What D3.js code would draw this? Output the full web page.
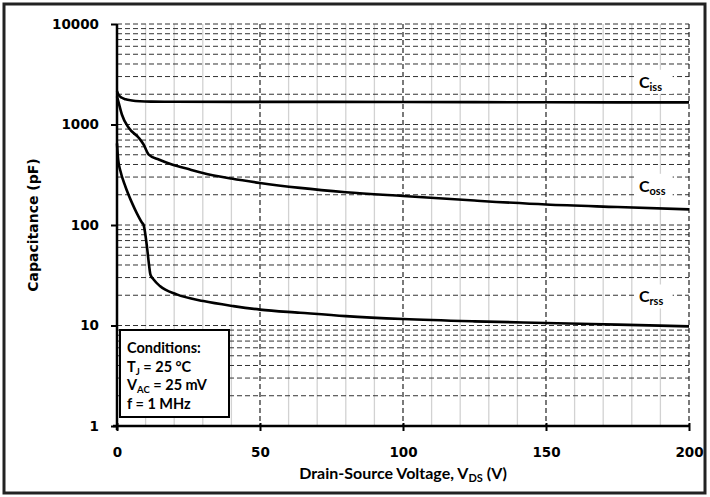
<!DOCTYPE html>
<html>
<head>
<meta charset="utf-8">
<script src="https://cdn.jsdelivr.net/npm/d3@7"></script>
<style>
  body { margin: 0; background: #fff; }
  svg { display: block; }
</style>
</head>
<body>
<svg id="chart"></svg>
<script>
// curve data
var vCiss = [0, 0.5, 1.7, 3, 5.2, 8, 12, 20, 50, 100, 150, 200];
var ciss  = [2150, 1980, 1845, 1780, 1735, 1705, 1690, 1685, 1680, 1675, 1665, 1660];

var vCoss = [0, 0.6, 1.7, 4.1, 7.6, 9.3, 11.1, 14.6, 19.2, 25.5, 30, 40, 50, 64, 80, 100, 125, 150, 175, 200];
var coss  = [1900, 1640, 1257, 927, 738, 632, 502, 448, 400, 357, 330, 290, 262, 234, 212, 194, 175, 160, 151, 143];

var vCrss = [0, 0.4, 1.2, 2.9, 5.2, 7, 8.7, 9.3, 10.5, 11.2, 11.7, 12.8, 15, 20.9, 30.2, 40.7, 50, 64, 80, 100, 125, 150, 175, 200];
var crss  = [650, 450, 345, 243, 167, 130, 106, 100, 60, 40, 32, 28.7, 24.7, 20.4, 17.5, 15.6, 14.4, 13.4, 12.4, 11.6, 11.0, 10.6, 10.2, 9.8];

var xTicks = [0, 50, 100, 150, 200];
var yTicks = [1, 10, 100, 1000, 10000];
var curveNames = ["iss", "oss", "rss"];
var labelAt = [2600, 240, 19];   // capacitance level where each label sits
var conditions = ["Conditions:", ["T", "J", " = 25 °C"], ["V", "AC", " = 25 mV"], "f = 1 MHz"];

var W = 710, H = 497;
var margin = {top: 24, right: 21, bottom: 71, left: 117},
    width = W - margin.left - margin.right,
    height = H - margin.top - margin.bottom;

var svg = d3.select("#chart").attr("width", W).attr("height", H);

// outer frame
svg.append("rect").attr("x", 4).attr("y", 4).attr("width", W - 9).attr("height", H - 8)
    .attr("fill", "none").attr("stroke", "#222").attr("stroke-width", 3);

var x = d3.scaleLinear().domain([0, 200]).range([0, width]);
var y = d3.scaleLog().domain([1, 10000]).range([height, 0]);

var g = svg.append("g").attr("transform", "translate(" + margin.left + "," + margin.top + ")");

// light vertical grid every 10 V
var minorX = d3.range(10, 201, 10).filter(function(d) { return d % 50 !== 0; });
g.selectAll(".vgrid").data(minorX).enter().append("line")
    .attr("x1", function(d) { return x(d); }).attr("x2", function(d) { return x(d); })
    .attr("y1", 0).attr("y2", height)
    .attr("stroke", "#d2d2d2").attr("stroke-width", 1.3);

// dashed horizontal grid on every log tick
var logTicks = [];
[1, 10, 100, 1000].forEach(function(dec) {
    for (var k = 1; k <= 9; k++) logTicks.push(dec * k);
});
logTicks.push(10000);
g.selectAll(".hgrid").data(logTicks.filter(function(d) { return d > 1; })).enter().append("line")
    .attr("x1", 0).attr("x2", width)
    .attr("y1", function(d) { return y(d); }).attr("y2", function(d) { return y(d); })
    .attr("stroke", "#333").attr("stroke-width", 1).attr("stroke-dasharray", "5,3");

// dashed vertical grid at major x ticks
g.selectAll(".vmajor").data([50, 100, 150, 200]).enter().append("line")
    .attr("x1", function(d) { return x(d); }).attr("x2", function(d) { return x(d); })
    .attr("y1", 0).attr("y2", height)
    .attr("stroke", "#222").attr("stroke-width", 1.2).attr("stroke-dasharray", "5,3");

// curves
var line = d3.line()
    .x(function(d) { return x(d[0]); })
    .y(function(d) { return y(d[1]); })
    .curve(d3.curveMonotoneX);

[[vCiss, ciss], [vCoss, coss], [vCrss, crss]].forEach(function(s) {
    g.append("path")
        .attr("d", line(d3.zip(s[0], s[1])))
        .attr("fill", "none").attr("stroke", "#000").attr("stroke-width", 2.6);
});

// curve labels with white backing
curveNames.forEach(function(name, i) {
    var ly = y(labelAt[i]);
    g.append("rect").attr("x", x(181)).attr("y", ly - 13).attr("width", 38).attr("height", 24)
        .attr("fill", "#fff");
    var t = g.append("text").attr("x", x(182.5)).attr("y", ly + 5)
        .style("font-family", "Lato, 'Open Sans', sans-serif").style("font-weight", "bold")
        .style("font-size", "16px");
    t.append("tspan").text("C");
    t.append("tspan").attr("dy", 3).style("font-size", "11px").text(name);
});

// axes
var xAxis = d3.axisBottom(x).tickValues(xTicks).tickSize(5).tickFormat(d3.format("d"));
var yAxis = d3.axisLeft(y).tickValues(yTicks).tickSize(6).tickFormat(d3.format("d"));

var gx = g.append("g").attr("transform", "translate(0," + height + ")").call(xAxis);
gx.select(".domain").attr("stroke-width", 2.5).attr("d", "M-4,0H" + width);
gx.selectAll(".tick line").attr("stroke-width", 2).attr("y1", -3);
gx.selectAll(".tick text").attr("dy", 0).attr("y", 31)
    .style("font-family", "'DejaVu Sans', sans-serif").style("font-weight", "bold").style("font-size", "13.5px");

var gy = g.append("g").call(yAxis);
gy.select(".domain").attr("stroke-width", 2.5).attr("d", "M0," + (height + 4) + "V0");
gy.selectAll(".tick line").attr("stroke-width", 2);
gy.selectAll(".tick text").attr("x", -18)
    .style("font-family", "'DejaVu Sans', sans-serif").style("font-weight", "bold").style("font-size", "13.5px");

// axis titles
var xt = svg.append("text").attr("x", margin.left + width / 2).attr("y", 479)
    .attr("text-anchor", "middle")
    .style("font-family", "Lato, 'Open Sans', sans-serif").style("font-weight", "bold").style("font-size", "16px");
xt.append("tspan").text("Drain-Source Voltage, V");
xt.append("tspan").attr("dy", 3).style("font-size", "11px").text("DS");
xt.append("tspan").attr("dy", -3).text(" (V)");

svg.append("text")
    .attr("transform", "translate(38," + (margin.top + height / 2) + ") rotate(-90)")
    .attr("text-anchor", "middle")
    .style("font-family", "'DejaVu Sans', sans-serif").style("font-weight", "bold").style("font-size", "14px")
    .text("Capacitance (pF)");

// conditions box
var bx = 3, by = 330 - margin.top;
g.append("rect").attr("x", bx).attr("y", by).attr("width", 109).attr("height", 87)
    .attr("fill", "#fff").attr("stroke", "#000").attr("stroke-width", 2);
conditions.forEach(function(c, i) {
    var t = g.append("text").attr("x", bx + 7).attr("y", by + 23 + i * 18.5)
        .style("font-family", "Lato, 'Open Sans', sans-serif").style("font-weight", "bold").style("font-size", "14.5px");
    if (typeof c === "string") {
        t.text(c);
    } else {
        t.append("tspan").text(c[0]);
        t.append("tspan").attr("dy", 3).style("font-size", "9.5px").text(c[1]);
        t.append("tspan").attr("dy", -3).text(c[2]);
    }
});
</script>
</body>
</html>
